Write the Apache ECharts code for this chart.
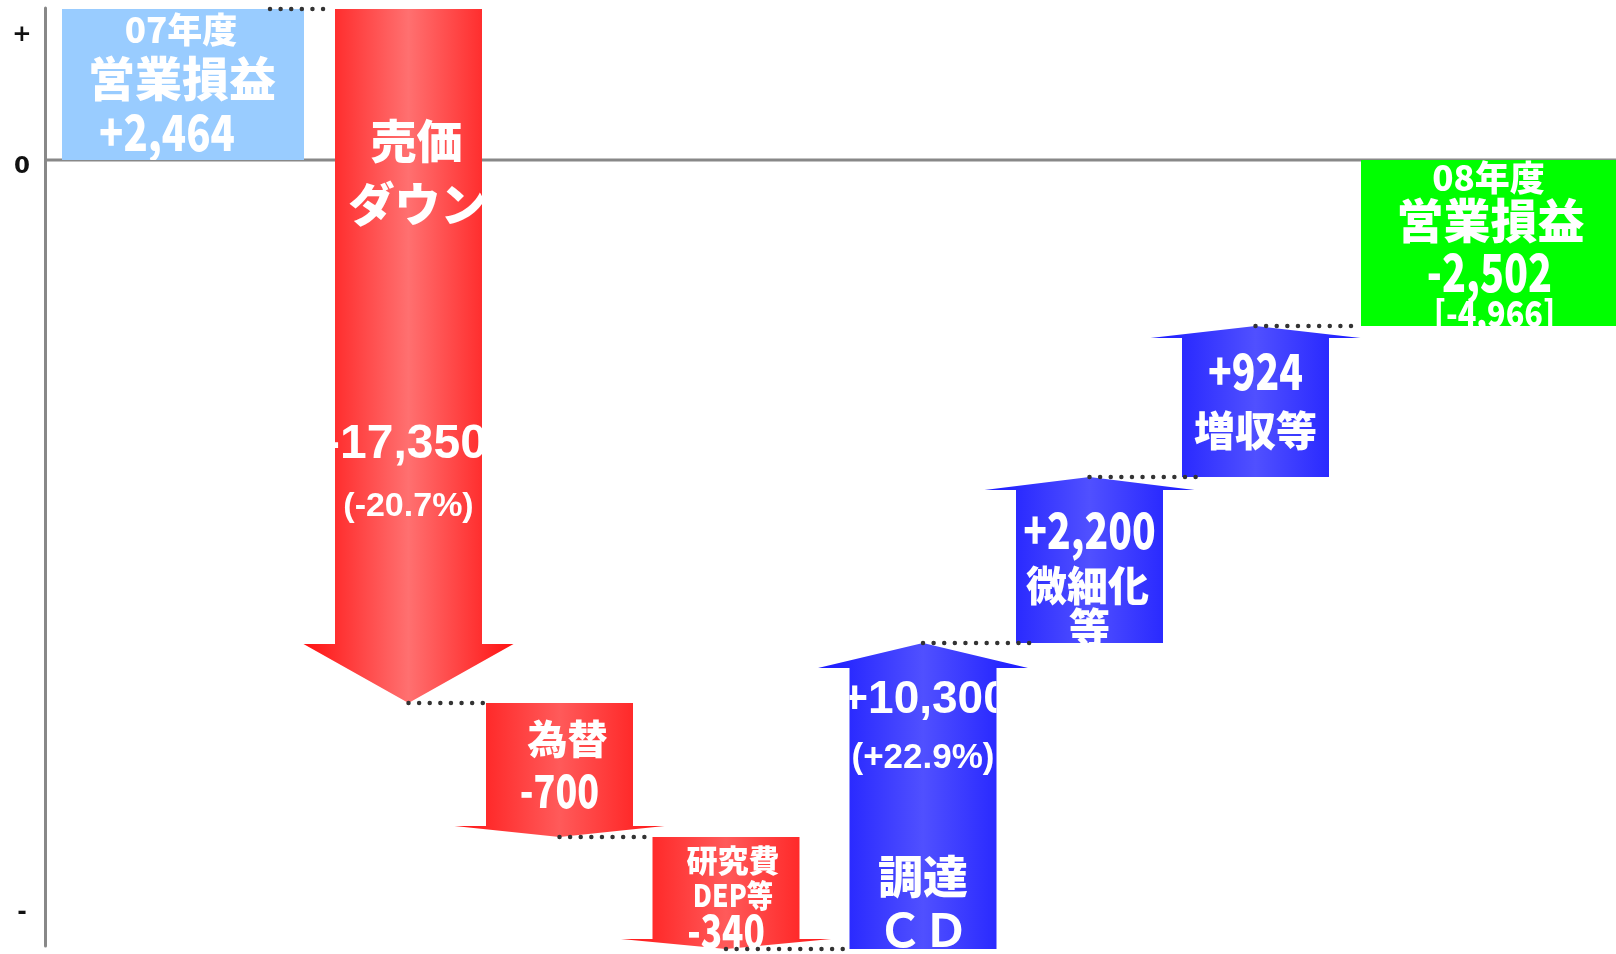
<!DOCTYPE html>
<html><head><meta charset="utf-8">
<script src="https://cdn.jsdelivr.net/npm/echarts@6/dist/echarts.min.js"></script>
<style>html,body{margin:0;padding:0;background:#fff}#c{width:1616px;height:954px}</style>
</head><body><div id="c"></div>
<script>
// ---------------- data ----------------
const categories = ['07年度営業損益', '売価ダウン', '為替', '研究費DEP等', '調達CD', '微細化等', '増収等', '08年度営業損益'];
const nameLines = [['07年度', '営業損益'], ['売価', 'ダウン'], ['為替'], ['研究費', 'DEP等'], ['調達', 'ＣＤ'], ['微細化', '等'], ['増収等'], ['08年度', '営業損益']];
const stepValues = [2464, -17350, -700, -340, 10300, 2200, 924, -2502];
const stepPercents = [null, -20.7, null, null, 22.9, null, null, null];
const bracketNotes = [null, null, null, null, null, null, null, -4966];
const stepKinds = ['total', 'down', 'down', 'down', 'up', 'up', 'up', 'total'];
// schematic level reached after each step, as drawn in the picture (not to scale)
const drawnLevels = [151, -543, -677, -789, -483, -317, -166, -166];
const yTickValues = [132, 0, -746];
const yTickLabels = ['+', '0', '-'];

// ---------------- layout / style ----------------
const slotX = [138, 363.5, 514.5, 681, 878, 1044.5, 1210.5, 1443.5];
const totalWidth = [242, 0, 0, 0, 0, 0, 0, 255];
const totalColors = ['#99CCFF', '', '', '', '', '', '', '#00FF00'];
const SHAFT = 147, HEAD = 210;
const headDepth = [0, 59, 11, 10, 25, 13, 12, 0];
const gradStops = {
  down1: [['#ff1212', 0], ['#ff7070', 0.5], ['#ff1212', 1]],
  down: [['#ff1515', 0], ['#ff5a5a', 0.5], ['#ff1515', 1]],
  up: [['#1a1aff', 0], ['#5050ff', 0.5], ['#1a1aff', 1]]
};
const F_J = '"Noto Sans CJK JP", sans-serif';
const F_N = '"Noto Sans CJK JP", sans-serif';
const F_W = '"Liberation Sans", Arial, sans-serif';
const textLayout = [
  [{t: 'n0', dy: 21, fs: 35, dx: -2, f: F_N, w: 900},
   {t: 'n1', dy: 69, fs: 47, dx: -1, f: F_J, w: 900},
   {t: 'v', dy: 123, fs: 50, dx: -16, f: F_N, sx: 0.8, w: 900}],
  [{t: 'n0', dy: 132, fs: 46, dx: 8, f: F_J, w: 900},
   {t: 'n1', dy: 195, fs: 46, dx: 9, f: F_J, w: 900},
   {t: 'v', dy: 436, fs: 48, dx: -3, f: F_W},
   {t: 'p', dy: 498, fs: 34, dx: 0, f: F_W}],
  [{t: 'n0', dy: 36, fs: 40, dx: 8, f: F_J, w: 900},
   {t: 'v', dy: 88, fs: 46, dx: 0, f: F_N, sx: 0.78, w: 900}],
  [{t: 'n0', dy: 23, fs: 31, dx: 7, f: F_J, w: 900},
   {t: 'n1', dy: 58, fs: 31, dx: 7, f: F_N, sx: 0.85, w: 900},
   {t: 'v', dy: 94, fs: 45, dx: 0, f: F_N, sx: 0.78, w: 900}],
  [{t: 'v', dy: 57, fs: 46, dx: 2, f: F_W},
   {t: 'p', dy: 115, fs: 35, dx: 0, f: F_W},
   {t: 'n0', dy: 234, fs: 45, dx: 0, f: F_J, w: 900},
   {t: 'n1', dy: 287, fs: 46, dx: 0, f: F_J}],
  [{t: 'v', dy: 53, fs: 50, dx: 0, f: F_N, sx: 0.78, w: 900},
   {t: 'n0', dy: 108, fs: 41, dx: -2, f: F_J, w: 900},
   {t: 'n1', dy: 150, fs: 41, dx: 0, f: F_J, w: 900}],
  [{t: 'v', dy: 45, fs: 50, dx: 0, f: F_N, sx: 0.78, w: 900},
   {t: 'n0', dy: 104, fs: 41, dx: 0, f: F_J, w: 900}],
  [{t: 'n0', dy: 18, fs: 35, dx: 0, f: F_N, w: 900},
   {t: 'n1', dy: 60, fs: 47, dx: 2, f: F_J, w: 900},
   {t: 'v', dy: 112, fs: 52, dx: 1, f: F_N, sx: 0.76, w: 900},
   {t: 'b', dy: 153, fs: 36, dx: 6, f: F_N, sx: 0.85, w: 900}]
];

const fmt = v => (v > 0 ? '+' : v < 0 ? '-' : '') + Math.abs(v).toLocaleString('en-US');
function textFor(i, t) {
  if (t === 'n0') return nameLines[i][0];
  if (t === 'n1') return nameLines[i][1];
  if (t === 'v') return fmt(stepValues[i]);
  if (t === 'p') return '(' + fmt(stepPercents[i]) + '%)';
  if (t === 'b') return '[' + fmt(bracketNotes[i]) + ']';
  return '';
}
function grad(stops) {
  return {type: 'linear', x: 0, y: 0, x2: 1, y2: 0, colorStops: stops.map(s => ({offset: s[1], color: s[0]}))};
}

function shapeRender(params, api) {
  const i = params.dataIndex;
  const kind = stepKinds[i];
  const prev = kind === 'total' ? 0 : drawnLevels[i - 1];
  const cur = drawnLevels[i];
  const cx = api.coord([slotX[i], 0])[0];
  const y0 = api.coord([0, prev])[1];
  const y1 = api.coord([0, cur])[1];
  const hs = api.size([SHAFT, 0])[0] / 2;
  const hh = api.size([HEAD, 0])[0] / 2;
  let shapeEl, top, clip;
  if (kind === 'total') {
    const hw = api.size([totalWidth[i], 0])[0] / 2;
    top = Math.min(y0, y1);
    const bot = Math.max(y0, y1);
    clip = {x: cx - hw, y: top, width: 2 * hw, height: bot - top};
    shapeEl = {type: 'rect', shape: clip, style: {fill: totalColors[i]}};
  } else if (kind === 'down') {
    const base = y1 - headDepth[i];
    top = y0;
    const pts = [[cx - hs, y0], [cx + hs, y0], [cx + hs, base], [cx + hh, base], [cx, y1], [cx - hh, base], [cx - hs, base]];
    clip = {x: cx - hs, y: y0, width: 2 * hs, height: y1 - y0};
    shapeEl = {type: 'polygon', shape: {points: pts}, style: {fill: grad(i === 1 ? gradStops.down1 : gradStops.down)}};
  } else {
    const base = y1 + headDepth[i];
    top = y1;
    const pts = [[cx - hs, y0], [cx - hs, base], [cx - hh, base], [cx, y1], [cx + hh, base], [cx + hs, base], [cx + hs, y0]];
    clip = {x: cx - hs, y: y1, width: 2 * hs, height: y0 - y1};
    shapeEl = {type: 'polygon', shape: {points: pts}, style: {fill: grad(gradStops.up)}};
  }
  const texts = textLayout[i].map(L => ({
    type: 'text', x: cx + L.dx, y: top + L.dy, scaleX: L.sx || 1,
    style: {
      text: textFor(i, L.t), fill: '#fff', fontSize: L.fs, fontFamily: L.f,
      fontWeight: L.w || 'bold',
      align: 'center', verticalAlign: 'middle', textAlign: 'center', textVerticalAlign: 'middle'
    }
  }));
  return {type: 'group', children: [shapeEl, {type: 'group', children: texts, clipPath: {type: 'rect', shape: clip}}]};
}

function connRender(params, api) {
  const i = params.dataIndex;
  const y = api.coord([0, drawnLevels[i]])[1];
  const cx = api.coord([slotX[i], 0])[0];
  const x0 = stepKinds[i] === 'total' ? cx + api.size([totalWidth[i], 0])[0] / 2 - 34 : cx;
  const nx = api.coord([slotX[i + 1], 0])[0];
  const nhw = (stepKinds[i + 1] === 'total' ? api.size([totalWidth[i + 1], 0])[0] : api.size([SHAFT, 0])[0]) / 2;
  const x1 = nx - nhw + (stepKinds[i] === 'up' && stepKinds[i + 1] === 'up' ? 20 : -2);
  return {type: 'line', shape: {x1: x0, y1: y, x2: x1, y2: y},
    style: {stroke: '#333', lineWidth: 4.5, lineDash: [0.01, 10.6], lineCap: 'round'}};
}

function zeroRender(params, api) {
  const cs = params.coordSys;
  const y = api.coord([0, 0])[1];
  return {type: 'line', shape: {x1: cs.x, y1: y, x2: cs.x + cs.width, y2: y}, style: {stroke: '#888', lineWidth: 3}};
}

const chart = echarts.init(document.getElementById('c'), null, {renderer: 'canvas'});
chart.setOption({
  animation: false,
  backgroundColor: '#fff',
  grid: {left: 45, right: 0, top: 8, bottom: 8},
  xAxis: {type: 'value', min: 0, max: 1571, show: false},
  yAxis: {
    type: 'value', min: -786, max: 152,
    axisLine: {show: true, lineStyle: {color: '#888', width: 3}},
    axisTick: {show: false}, splitLine: {show: false},
    axisLabel: {
      customValues: yTickValues, margin: 23, align: 'center', verticalAlign: 'top', lineHeight: 14,
      color: '#111', fontSize: 23, fontWeight: 'bold', fontFamily: '"DejaVu Sans", sans-serif',
      formatter: v => yTickLabels[yTickValues.indexOf(v)] ?? ''
    }
  },
  series: [
    {type: 'custom', z: 1, clip: false, data: [0], renderItem: zeroRender, silent: true},
    {type: 'custom', z: 2, clip: false, data: categories.map((c, i) => i), renderItem: shapeRender, silent: true},
    {type: 'custom', z: 3, clip: false, data: categories.slice(0, -1).map((c, i) => i), renderItem: connRender, silent: true}
  ]
});
</script></body></html>
